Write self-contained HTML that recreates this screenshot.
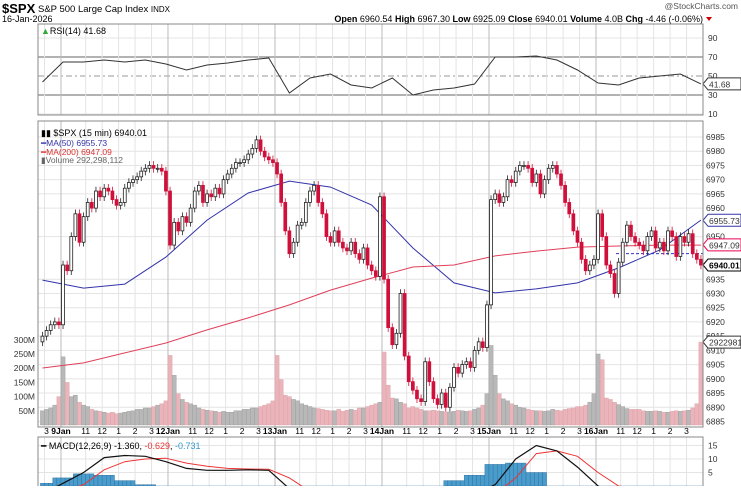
<!DOCTYPE html>
<html><head><meta charset="utf-8">
<style>
body{margin:0;background:#fff;font-family:"Liberation Sans",sans-serif;}
svg text{font-family:"Liberation Sans",sans-serif;}
</style></head>
<body>
<svg id="chart" width="741" height="486" viewBox="0 0 741 486" xmlns="http://www.w3.org/2000/svg">
<text x="2" y="13" font-size="13" font-weight="bold">$SPX</text>
<text x="38" y="12" font-size="9.5">S&amp;P 500 Large Cap Index <tspan font-size="8">INDX</tspan></text>
<text x="2" y="22" font-size="9">16-Jan-2026</text>
<text x="738" y="9" font-size="8.5" fill="#555" text-anchor="end">@StockCharts.com</text>
<text x="703" y="22" font-size="9" text-anchor="end"><tspan font-weight="bold">Open</tspan> 6960.54 <tspan font-weight="bold">High</tspan> 6967.30 <tspan font-weight="bold">Low</tspan> 6925.09 <tspan font-weight="bold">Close</tspan> 6940.01 <tspan font-weight="bold">Volume</tspan> 4.0B <tspan font-weight="bold">Chg</tspan> -4.46 (-0.06%)</text>
<path d="M706 17 L712 17 L709 21 Z" fill="#c00"/>
<g id="grid"></g>
<g id="vol"></g>
<g id="ma"></g>
<g id="candles"></g>
<g id="rsi"></g>
<g id="macd"></g>
<g id="axes"></g>
<rect x="38" y="24" width="665" height="91" fill="none" stroke="#888"/>
<rect x="38" y="121" width="665" height="306" fill="none" stroke="#888"/>
<rect x="38" y="437" width="665" height="60" fill="none" stroke="#888"/>
<text x="41" y="34" font-size="9"><tspan fill="#3a3">▲</tspan>RSI(14) 41.68</text>
<text x="41" y="136" font-size="9">▮▮ $SPX (15 min) 6940.01</text>
<text x="41" y="146" font-size="8.5" fill="#33a">━MA(50) 6955.73</text>
<text x="41" y="155" font-size="8.5" fill="#d33">━MA(200) 6947.09</text>
<text x="41" y="163" font-size="8.5" fill="#666">▮Volume 292,298,112</text>
<text x="41" y="449" font-size="9">━ MACD(12,26,9) -1.360, <tspan fill="#e33">-0.629</tspan>, <tspan fill="#39c">-0.731</tspan></text>
</svg>
<script>
const closes=[6915,6917,6919,6920,6919,
6940,6938,6950,6958,6948,6957,6962,6960,6966,6964,6967,6966,6963,6961,6962,6967,6969,6970,6971,6973,6974,6975,6974,6974,6973,6966,
6947,6955,6952,6957,6955,6960,6966,6968,6962,6965,6964,6967,6965,6970,6972,6974,6976,6976,6977,6979,6981,6984,6980,6978,6977,6976,
6972,6962,6952,6944,6948,6954,6955,6962,6966,6968,6962,6958,6950,6948,6952,6948,6946,6945,6948,6944,6942,6946,6940,6938,6936,6964,
6935,6918,6912,6916,6930,6908,6899,6896,6893,6892,6906,6899,6893,6891,6895,6890,6897,6904,6902,6905,6906,6904,6910,6913,6911,6926,
6963,6965,6962,6964,6970,6969,6973,6975,6975,6974,6969,6972,6965,6970,6974,6975,6972,6968,6962,6958,6952,6948,6942,6938,6940,6942,
6958,6950,6940,6937,6930,6941,6948,6954,6950,6948,6947,6945,6950,6952,6946,6948,6945,6952,6950,6943,6950,6948,6951,6944,6942,6940];
const opens0=[6913];
const volumes=[50,55,60,70,100,
240,150,100,105,80,70,65,55,50,48,45,42,45,40,42,45,48,50,55,55,60,60,65,70,75,85,
245,175,110,90,80,75,70,60,55,52,50,48,45,48,45,45,50,50,55,55,60,60,65,70,75,85,
245,160,105,100,90,85,75,70,65,60,58,55,52,50,50,55,48,52,55,52,60,60,65,70,75,80,
257,140,95,92,80,75,60,65,60,55,50,50,52,50,48,46,46,48,52,50,48,50,55,60,70,110,
280,175,110,92,85,75,70,62,60,55,52,50,50,48,50,55,52,50,55,58,60,65,65,70,80,110,
250,230,95,90,80,72,65,58,55,55,55,50,48,48,50,48,45,45,48,50,48,50,52,60,75,292];
const ma50=[6934.7,6931.9,6933.3,6942.8,6955.8,6965.3,6969.5,6967.4,6961.1,6946,6933.7,6930.2,6931.6,6933.7,6939,6945.3,6955.8];
const ma200=[6903.8,6905.6,6909.1,6912.6,6917.2,6921.4,6926,6931.2,6935.4,6939.3,6940,6943.2,6944.9,6946.3,6946.7,6947,6947];
const rsiVals=[43.7,64.7,64.7,66.8,64.7,66.8,62.6,56.3,61.6,63.7,66.8,68.9,32.1,47.9,52.1,40.5,37.4,47.9,30,35.3,37.4,41.6,70,70,71,66.8,56.3,42.6,40.5,47.9,50,52.1,41.7];
const macdVals=[-3,1,5,10.5,11.3,11,9,6.5,5.8,5.8,6,5.8,-1,-5,-5,-5,-5,-8,-10,-10,-8,-3,0.5,10,15,13,7,0,-3,-3,-2,-2,-1.36];
const signalVals=[-4,-2,0.5,6,9,10,10.3,8.5,7.3,6.5,6.3,6.2,3,-2,-4,-5,-5.5,-7,-8.5,-9.5,-9.5,-7,-3,3,12,13,11,5,0,-1,-1.5,-1.6,-0.63];
const histVals=[1,3,4.5,4,2,0.5,-1,-2,-2,-1,-1,-1,-4,-3,-2,-1,-1,-1,-2,-1,2,4,8,8.5,5,-1,-4,-5,-3,-2,-1,-0.5,-0.73];
const priceTicks=[6985,6980,6975,6970,6965,6960,6950,6935,6930,6925,6920,6915,6910,6905,6900,6895,6890,6885];
const volTicks=[300,250,200,150,100,50];
const rsiTicks=[90,70,50,30,10];
const macdTicks=[15,10,5];
const dayLabels=["9Jan","12Jan","13Jan","14Jan","15Jan","16Jan"];
const hourLabels=["11","12","1","2","3"];

const NS="http://www.w3.org/2000/svg";
const X0=40.4,X1=703,N=closes.length,BW=(X1-X0)/N;
const xi=i=>X0+(i+0.5)*BW;
const py=p=>137+(6985-p)*2.845;
const vy=v=>425-v*0.284;
const ry=r=>57-(r-70)*0.95;
const my=m=>486-m*2.7;
function mk(parent,tag,attrs){const e=document.createElementNS(NS,tag);for(const k in attrs)e.setAttribute(k,attrs[k]);document.getElementById(parent).appendChild(e);return e;}

priceTicks.forEach(p=>{const l=mk('grid','line',{x1:38,x2:X1,y1:py(p),y2:py(p),stroke:'#e4e4e4'});


const t=mk('axes','text',{x:706,y:py(p)+3,'font-size':8.5,fill:'#333'});t.textContent=p;

});
rsiTicks.forEach(r=>{const strong=(r==70||r==30);const l=mk('grid','line',{x1:38,x2:X1,y1:ry(r),y2:ry(r),stroke:strong?'#666':(r==50?'#999':'#e4e4e4'),'stroke-dasharray':r==50?'6,3,2,3':'none'});


const t=mk('axes','text',{x:708,y:ry(r)+3,'font-size':8.5,fill:'#333'});t.textContent=r;

});
volTicks.forEach(v=>{const t=mk('axes','text',{x:35,y:vy(v)+3,'font-size':8.5,fill:'#333','text-anchor':'end'});t.textContent=v+'M';

});
macdTicks.forEach(m=>{const l=mk('grid','line',{x1:38,x2:X1,y1:my(m),y2:my(m),stroke:'#e4e4e4'});


const t=mk('axes','text',{x:708,y:my(m)+3,'font-size':8.5,fill:'#333'});t.textContent=m;

});
const hourOff=[6,10,14,18,22];
function vline(x,c){[[24,115],[121,427],[437,486]].forEach(([a,b])=>{const l=mk('grid','line',{x1:x,x2:x,y1:a,y2:b,stroke:c});

});}
{const x=X0+1*BW;vline(x,'#e4e4e4');const t=mk('axes','text',{x:x+2,y:434,'font-size':8.5,'text-anchor':'middle'});t.textContent='3';

}
dayLabels.forEach((d,k)=>{const s=5+26*k;const x=X0+s*BW;vline(x,'#bbb');
const t=mk('axes','text',{x:x,y:434,'font-size':8.5,'font-weight':'bold','text-anchor':'middle'});t.textContent=d;


hourLabels.forEach((h,j)=>{const hx=X0+(s+hourOff[j])*BW;vline(hx,'#e4e4e4');
const u=mk('axes','text',{x:hx,y:434,'font-size':8.5,'text-anchor':'middle'});u.textContent=h;

});});

for(let i=0;i<N;i++){
 const o=i==0?opens0[0]:closes[i-1],c=closes[i];const up=c>=o;
 const vb=mk('vol','rect',{x:X0+i*BW,y:vy(volumes[i]),width:BW,height:425-vy(volumes[i]),fill:up?'#b8b8b8':'#eab4ba',stroke:up?'#9a9a9a':'#d9a0a6',"stroke-width":0.4});
 
 
 const hi=Math.max(o,c)+1.5,lo=Math.min(o,c)-1.5,x=xi(i);
 const col=up?'#222':'#d0103a';
 const w=mk('candles','line',{x1:x,x2:x,y1:py(hi),y2:py(lo),stroke:col,'stroke-width':0.8});
 
 
 const b=mk('candles','rect',{x:x-BW*0.35,y:py(Math.max(o,c)),width:BW*0.7,height:Math.max(1,Math.abs(py(o)-py(c))),fill:up?'#fff':'#d0103a',stroke:col,'stroke-width':0.8});
 
 
}
function line(parent,vals,fy,color,name,w){const step=(N-1)/(vals.length-1);const pts=vals.map((v,k)=>xi(k*step).toFixed(1)+','+fy(v).toFixed(1)).join(' ');
const p=mk(parent,'polyline',{points:pts,fill:'none',stroke:color,'stroke-width':w||1});

return p;}
line('ma',ma50,py,'#3333aa','ma50-line');
line('ma',ma200,py,'#e0405a','ma200-line');
const cl=mk('ma','line',{x1:X0+(5+26*5)*BW+20,x2:X1,y1:py(6944),y2:py(6944),stroke:'#33c','stroke-dasharray':'3,2'});


line('rsi',rsiVals,ry,'#333','rsi-line');
const hstep=(N-1)/(histVals.length-1);
for(let i=0;i<N;i++){const h=histVals[Math.round(i/hstep)];const y0=my(0),y1=my(h);
const r=mk('macd','rect',{x:X0+i*BW,y:Math.min(y0,y1),width:BW,height:Math.abs(y1-y0),fill:'#4a9ccc',stroke:'#2a6c9c','stroke-width':0.4});

}
line('macd',signalVals,my,'#e33','macd-signal-line');
line('macd',macdVals,my,'#111','macd-line',1.2);
function tag(y,txt,col,bold){
const r=mk('axes','path',{d:`M703 ${y} L708 ${y-6} L741 ${y-6} L741 ${y+6} L708 ${y+6} Z`,fill:'#fff',stroke:col});


const t=mk('axes','text',{x:709,y:y+3.5,'font-size':8.5,fill:bold?'#000':'#333','font-weight':bold?'bold':'normal'});t.textContent=txt;

}
tag(py(6955.73),'6955.73','#33a');
tag(py(6947.09),'6947.09','#e05');
tag(py(6940.01),'6940.01','#000',true);
tag(vy(292),'2922981','#333');
tag(ry(41.68),'41.68','#333');
</script>
</body></html>
